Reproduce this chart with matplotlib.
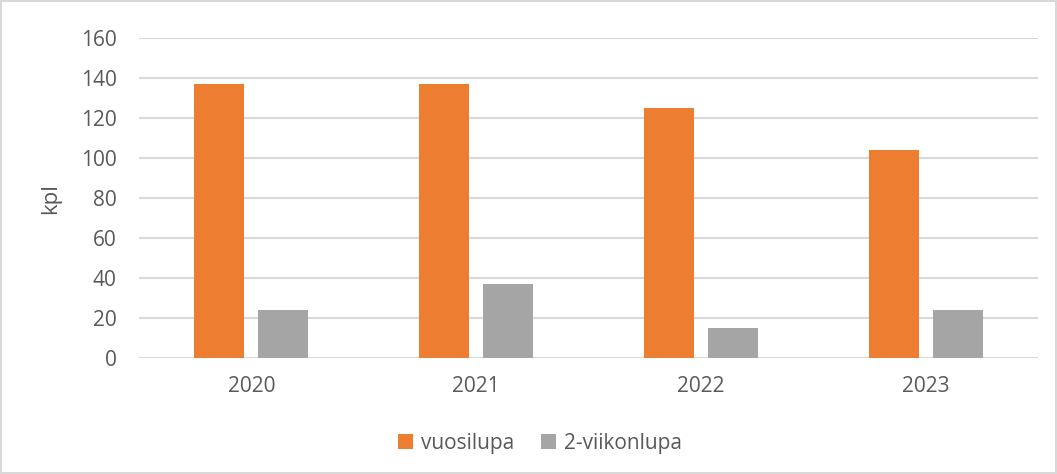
import matplotlib.pyplot as plt
import numpy as np

# values
years = ["2020", "2021", "2022", "2023"]
vuosilupa = [137, 137, 125, 104]
viikonlupa = [24, 37, 15, 24]

orange = "#ED7D31"
grey = "#A5A5A5"
txt = "#595959"

plt.rcParams['font.family'] = ['Open Sans', 'DejaVu Sans']

fig = plt.figure(figsize=(10.57, 4.74), dpi=100)
fig.patch.set_edgecolor("#D9D9D9")
fig.patch.set_linewidth(1.5)
ax = fig.add_axes([0.1315, 0.244, 0.8505, 0.676])

x = np.arange(len(years))
w = 0.223
off = 0.1424
ax.bar(x - off, vuosilupa, w, color=orange, label="vuosilupa", zorder=3)
ax.bar(x + off, viikonlupa, w, color=grey, label="2-viikonlupa", zorder=3)

ax.set_xlim(-0.5, len(years) - 0.5)
ax.set_ylim(0, 160)
ax.set_yticks(range(0, 161, 20))
ax.set_xticks(x)
ax.set_xticklabels(years)
ax.yaxis.grid(True, color="#D9D9D9", linewidth=1.5, zorder=0)
ax.set_axisbelow(True)
for s in ax.spines.values():
    s.set_visible(False)
ax.tick_params(axis="both", length=0, labelsize=15, colors=txt)
ax.tick_params(axis="y", pad=16)
ax.tick_params(axis="x", pad=13)
ax.set_ylabel("kpl", fontsize=16, color=txt)
ax.yaxis.set_label_coords(-0.087, 0.5)

fig.legend(loc="center", bbox_to_anchor=(540 / 1057, 1 - 443 / 474), ncol=2,
           frameon=False, fontsize=15, labelcolor=txt, handlelength=0.7,
           handleheight=0.7, handletextpad=0.4, columnspacing=1.3)

fig.savefig("out.png", dpi=100)
